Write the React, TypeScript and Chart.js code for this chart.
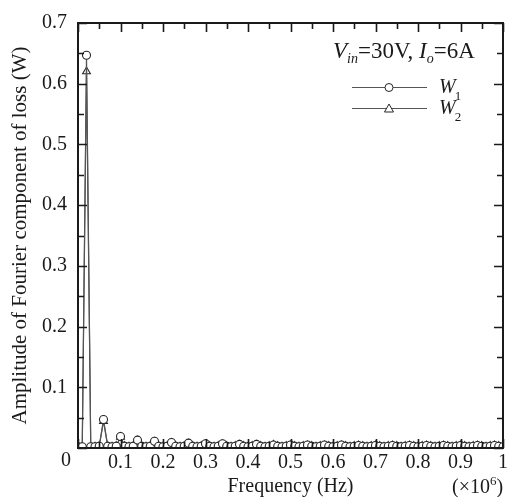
import { useEffect, useRef } from 'react';
import { Chart, registerables } from 'chart.js';

Chart.register(...registerables);

// Frequency samples (×10^6 Hz)
const freqMHz = [
  0.00, 0.01, 0.02, 0.03, 0.04, 0.05, 0.06, 0.07, 0.08, 0.09,
  0.10, 0.11, 0.12, 0.13, 0.14, 0.15, 0.16, 0.17, 0.18, 0.19,
  0.20, 0.21, 0.22, 0.23, 0.24, 0.25, 0.26, 0.27, 0.28, 0.29,
  0.30, 0.31, 0.32, 0.33, 0.34, 0.35, 0.36, 0.37, 0.38, 0.39,
  0.40, 0.41, 0.42, 0.43, 0.44, 0.45, 0.46, 0.47, 0.48, 0.49,
  0.50, 0.51, 0.52, 0.53, 0.54, 0.55, 0.56, 0.57, 0.58, 0.59,
  0.60, 0.61, 0.62, 0.63, 0.64, 0.65, 0.66, 0.67, 0.68, 0.69,
  0.70, 0.71, 0.72, 0.73, 0.74, 0.75, 0.76, 0.77, 0.78, 0.79,
  0.80, 0.81, 0.82, 0.83, 0.84, 0.85, 0.86, 0.87, 0.88, 0.89,
  0.90, 0.91, 0.92, 0.93, 0.94, 0.95, 0.96, 0.97, 0.98, 0.99,
  1.00,
];

// W1 amplitude (W)
const w1Loss = [
  0.002, 0.002, 0.647, 0.002, 0.002, 0.003, 0.047, 0.003, 0.002, 0.003,
  0.019, 0.003, 0.002, 0.003, 0.013, 0.003, 0.002, 0.003, 0.011, 0.003,
  0.002, 0.003, 0.009, 0.003, 0.002, 0.003, 0.008, 0.003, 0.002, 0.003,
  0.007, 0.003, 0.002, 0.003, 0.007, 0.003, 0.002, 0.003, 0.006, 0.003,
  0.002, 0.003, 0.006, 0.003, 0.002, 0.003, 0.005, 0.003, 0.002, 0.003,
  0.005, 0.003, 0.002, 0.003, 0.005, 0.003, 0.002, 0.003, 0.005, 0.003,
  0.002, 0.003, 0.005, 0.003, 0.002, 0.003, 0.004, 0.003, 0.002, 0.003,
  0.004, 0.003, 0.002, 0.003, 0.004, 0.003, 0.002, 0.003, 0.004, 0.003,
  0.002, 0.003, 0.004, 0.003, 0.002, 0.003, 0.004, 0.003, 0.002, 0.003,
  0.004, 0.003, 0.002, 0.003, 0.004, 0.003, 0.002, 0.003, 0.004, 0.003,
  0.002,
];

// W2 amplitude (W)
const w2Loss = [
  0.002, 0.002, 0.620, 0.002, 0.002, 0.003, 0.044, 0.003, 0.002, 0.003,
  0.018, 0.003, 0.002, 0.003, 0.012, 0.003, 0.002, 0.003, 0.010, 0.003,
  0.002, 0.003, 0.008, 0.003, 0.002, 0.003, 0.007, 0.003, 0.002, 0.003,
  0.006, 0.003, 0.002, 0.003, 0.006, 0.003, 0.002, 0.003, 0.005, 0.003,
  0.002, 0.003, 0.005, 0.003, 0.002, 0.003, 0.005, 0.003, 0.002, 0.003,
  0.004, 0.003, 0.002, 0.003, 0.004, 0.003, 0.002, 0.003, 0.004, 0.003,
  0.002, 0.003, 0.004, 0.003, 0.002, 0.003, 0.004, 0.003, 0.002, 0.003,
  0.004, 0.003, 0.002, 0.003, 0.004, 0.003, 0.002, 0.003, 0.004, 0.003,
  0.002, 0.003, 0.004, 0.003, 0.002, 0.003, 0.004, 0.003, 0.002, 0.003,
  0.004, 0.003, 0.002, 0.003, 0.004, 0.003, 0.002, 0.003, 0.004, 0.003,
  0.002,
];

const xTicks = [0, 0.1, 0.2, 0.3, 0.4, 0.5, 0.6, 0.7, 0.8, 0.9, 1];
const xTickLabels = ['', '0.1', '0.2', '0.3', '0.4', '0.5', '0.6', '0.7', '0.8', '0.9', '1'];
const xMinorTicks = [0.05, 0.15, 0.25, 0.35, 0.45, 0.55, 0.65, 0.75, 0.85, 0.95];
const yTicks = [0, 0.1, 0.2, 0.3, 0.4, 0.5, 0.6, 0.7];
const yTickLabels = ['', '0.1', '0.2', '0.3', '0.4', '0.5', '0.6', '0.7'];
const yMinorTicks = [0.05, 0.15, 0.25, 0.35, 0.45, 0.55, 0.65];

const SERIF = '"Liberation Serif", "Times New Roman", serif';
const INK = '#1a1a1a';
const LINE = '#555555';
const MARK = '#262626';

const framePlugin = {
  id: 'frameAndNotes',
  afterDraw(chart: any) {
    const ctx = chart.ctx as CanvasRenderingContext2D;
    const { left, right, top, bottom } = chart.chartArea;
    const xs = chart.scales.x;
    const ys = chart.scales.y;
    ctx.save();
    ctx.strokeStyle = INK;
    ctx.lineWidth = 2;
    ctx.strokeRect(left, top, right - left, bottom - top);
    ctx.lineWidth = 1.6;
    const major = 9;
    const minor = 6;
    const vTick = (v: number, len: number) => {
      const px = Math.round(xs.getPixelForValue(v)) + 0.5;
      ctx.beginPath();
      ctx.moveTo(px, bottom); ctx.lineTo(px, bottom - len);
      ctx.moveTo(px, top); ctx.lineTo(px, top + len);
      ctx.stroke();
    };
    const hTick = (v: number, len: number) => {
      const py = Math.round(ys.getPixelForValue(v)) + 0.5;
      ctx.beginPath();
      ctx.moveTo(left, py); ctx.lineTo(left + len, py);
      ctx.moveTo(right, py); ctx.lineTo(right - len, py);
      ctx.stroke();
    };
    xTicks.forEach((v) => vTick(v, major));
    xMinorTicks.forEach((v) => vTick(v, minor));
    yTicks.forEach((v) => hTick(v, major));
    yMinorTicks.forEach((v) => hTick(v, minor));

    // origin label
    ctx.fillStyle = INK;
    ctx.font = `20px ${SERIF}`;
    ctx.textAlign = 'center';
    ctx.textBaseline = 'top';
    ctx.fillText('0', left - 12, bottom + 3);

    // (×10^6)
    ctx.textAlign = 'left';
    ctx.textBaseline = 'alphabetic';
    let x = 452;
    ctx.font = `20px ${SERIF}`;
    ctx.fillText('(×10', x, 493);
    x += ctx.measureText('(×10').width;
    ctx.font = `13px ${SERIF}`;
    ctx.fillText('6', x, 485);
    x += ctx.measureText('6').width;
    ctx.font = `20px ${SERIF}`;
    ctx.fillText(')', x, 493);

    // legend heading: V_in=30V, I_o=6A
    const parts: [string, string, number][] = [
      ['V', `italic 23px ${SERIF}`, 58],
      ['in', `italic 14px ${SERIF}`, 63],
      ['=30V, ', `23px ${SERIF}`, 58],
      ['I', `italic 23px ${SERIF}`, 58],
      ['o', `italic 14px ${SERIF}`, 63],
      ['=6A', `23px ${SERIF}`, 58],
    ];
    x = 333;
    for (const [t, f, yb] of parts) {
      ctx.font = f;
      ctx.fillText(t, x, yb);
      x += ctx.measureText(t).width;
    }

    // legend entries
    const rows: [number, string, 'circle' | 'triangle'][] = [
      [87, '1', 'circle'],
      [108, '2', 'triangle'],
    ];
    for (const [ly, sub, shape] of rows) {
      ctx.strokeStyle = LINE;
      ctx.lineWidth = 1;
      ctx.beginPath();
      ctx.moveTo(352, ly + 0.5);
      ctx.lineTo(427, ly + 0.5);
      ctx.stroke();
      ctx.strokeStyle = MARK;
      ctx.fillStyle = '#ffffff';
      ctx.beginPath();
      if (shape === 'circle') {
        ctx.arc(389, ly + 0.5, 4, 0, Math.PI * 2);
      } else {
        ctx.moveTo(389, ly - 4);
        ctx.lineTo(393.5, ly + 4);
        ctx.lineTo(384.5, ly + 4);
        ctx.closePath();
      }
      ctx.fill();
      ctx.stroke();
      ctx.fillStyle = INK;
      ctx.font = `italic 20px ${SERIF}`;
      ctx.fillText('W', 439, ly + 6);
      const w = ctx.measureText('W').width;
      ctx.font = `13px ${SERIF}`;
      ctx.fillText(sub, 439 + w - 1, ly + 13);
    }
    ctx.restore();
  },
};

export default function App() {
  const ref = useRef<HTMLCanvasElement | null>(null);

  useEffect(() => {
    if (!ref.current) return;
    const pts = (vals: number[]) => freqMHz.map((f, i) => ({ x: f, y: vals[i] }));
    const chart = new Chart(ref.current, {
      type: 'scatter',
      data: {
        datasets: [
          {
            label: 'W1',
            data: pts(w1Loss),
            showLine: true,
            borderColor: LINE,
            borderWidth: 1.2,
            pointStyle: 'circle',
            pointRadius: 4,
            pointBorderColor: MARK,
            pointBackgroundColor: '#ffffff',
            pointBorderWidth: 1.1,
          },
          {
            label: 'W2',
            data: pts(w2Loss),
            showLine: true,
            borderColor: LINE,
            borderWidth: 1.2,
            pointStyle: 'triangle',
            pointRadius: 4.5,
            pointBorderColor: MARK,
            pointBackgroundColor: '#ffffff',
            pointBorderWidth: 1.1,
          },
        ],
      },
      options: {
        animation: false,
        responsive: false,
        maintainAspectRatio: false,
        layout: { padding: { top: 16, right: 3, left: 0, bottom: 0 } },
        plugins: {
          legend: { display: false },
          tooltip: { enabled: false },
        },
        scales: {
          x: {
            type: 'linear',
            min: 0,
            max: 1,
            afterBuildTicks: (s: any) => {
              s.ticks = xTicks.map((v) => ({ value: v }));
            },
            afterFit: (s: any) => {
              s.height = 49;
            },
            ticks: {
              autoSkip: false,
              maxRotation: 0,
              padding: 3,
              color: INK,
              font: { family: SERIF, size: 20 },
              callback: (_v: any, i: number) => xTickLabels[i],
            },
            grid: { display: false, drawTicks: false, tickLength: 0 },
            border: { display: false },
            title: {
              display: true,
              text: 'Frequency (Hz)',
              color: INK,
              font: { family: SERIF, size: 20, lineHeight: 1 },
              padding: { top: 0, bottom: 0 },
            },
          },
          y: {
            type: 'linear',
            min: 0,
            max: 0.7,
            afterBuildTicks: (s: any) => {
              s.ticks = yTicks.map((v) => ({ value: v }));
            },
            afterFit: (s: any) => {
              s.width = 78;
            },
            ticks: {
              autoSkip: false,
              padding: 11,
              color: INK,
              font: { family: SERIF, size: 20 },
              callback: (_v: any, i: number) => yTickLabels[i],
            },
            grid: { display: false, drawTicks: false, tickLength: 0 },
            border: { display: false },
            title: {
              display: true,
              text: 'Amplitude of Fourier component of loss (W)',
              color: INK,
              font: { family: SERIF, size: 21, lineHeight: 1 },
              padding: { top: 10, bottom: 0 },
            },
          },
        },
      },
      plugins: [framePlugin],
    });
    return () => chart.destroy();
  }, []);

  return (
    <div style={{ position: 'fixed', left: 0, top: 0, width: 511, height: 497, background: '#fff' }}>
      <canvas ref={ref} width={511} height={497} style={{ display: 'block' }} />
    </div>
  );
}
